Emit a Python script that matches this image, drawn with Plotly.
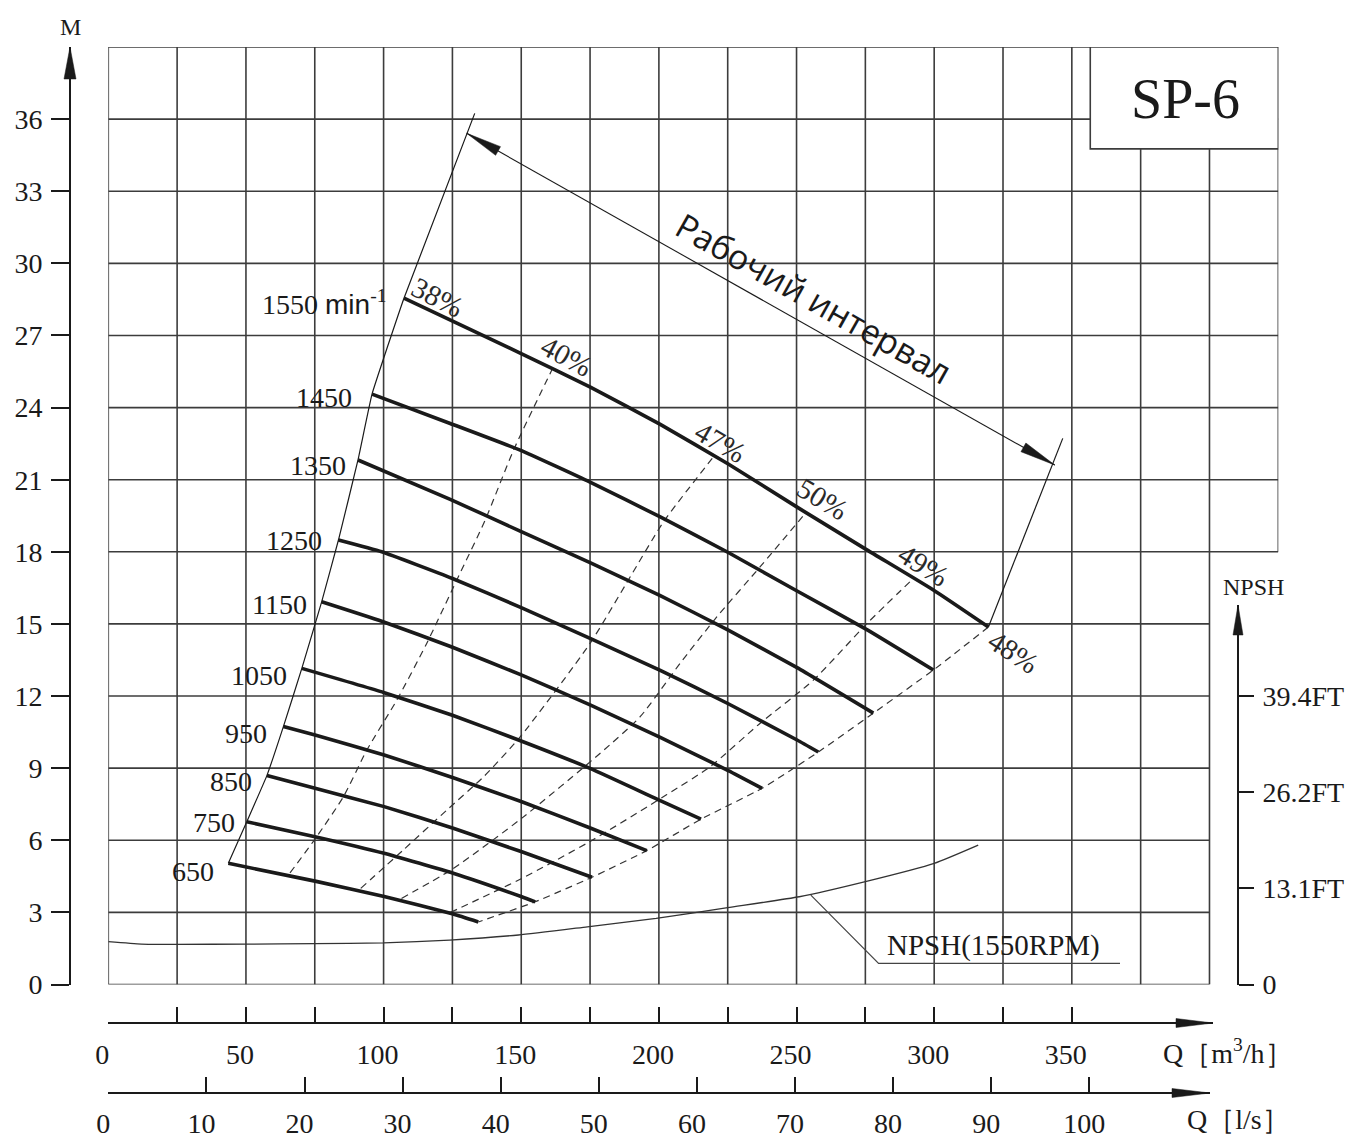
import math
import plotly.graph_objects as go

# ---------------- data ----------------
SPEEDS = [1550, 1450, 1350, 1250, 1150, 1050, 950, 850, 750, 650]

Q_1550 = [107.4, 149.6, 175.1, 200.5, 225.2, 250.2, 275.7, 299.7, 319.7]
H_1550 = [28.55, 26.27, 24.85, 23.3, 21.65, 19.86, 18.07, 16.41, 14.87]
Q_1450 = [95.8, 124.2, 149.6, 175.0, 200.5, 225.2, 250.2, 275.7, 299.7]
H_1450 = [24.56, 23.34, 22.23, 20.9, 19.45, 17.97, 16.37, 14.75, 13.08]
Q_1350 = [90.7, 124.2, 149.6, 175.0, 200.5, 225.2, 250.2, 277.9]
H_1350 = [21.82, 20.18, 18.86, 17.55, 16.18, 14.74, 13.18, 11.29]
Q_1250 = [83.6, 99.3, 124.8, 150.2, 175.0, 200.5, 225.2, 250.2, 257.9]
H_1250 = [18.49, 18.0, 16.9, 15.67, 14.4, 13.07, 11.68, 10.17, 9.67]
Q_1150 = [77.5, 99.3, 124.8, 150.2, 175.0, 200.5, 225.2, 237.5]
H_1150 = [15.92, 15.11, 14.04, 12.87, 11.63, 10.28, 8.9, 8.16]
Q_1050 = [70.3, 100.0, 125.0, 150.2, 175.2, 200.5, 215.3]
H_1050 = [13.15, 12.15, 11.2, 10.12, 8.98, 7.65, 6.88]
Q_950 = [63.6, 75.1, 100.2, 125.3, 150.2, 175.3, 195.6]
H_950 = [10.73, 10.38, 9.55, 8.6, 7.6, 6.5, 5.57]
Q_850 = [57.6, 75.1, 100.2, 125.3, 150.2, 175.7]
H_850 = [8.69, 8.16, 7.4, 6.5, 5.52, 4.46]
Q_750 = [50.3, 75.1, 100.2, 125.3, 150.2, 155.1]
H_750 = [6.77, 6.15, 5.46, 4.63, 3.65, 3.44]
Q_650 = [43.6, 75.1, 100.2, 125.3, 134.4]
H_650 = [5.04, 4.3, 3.66, 2.93, 2.6]

CURVES_Q = [Q_1550, Q_1450, Q_1350, Q_1250, Q_1150, Q_1050, Q_950, Q_850, Q_750, Q_650]
CURVES_H = [H_1550, H_1450, H_1350, H_1250, H_1150, H_1050, H_950, H_850, H_750, H_650]

SPEED_LABELS = ['1550 <span style="font-family:Liberation Sans">min</span><sup>-1</sup>',
                "1450", "1350", "1250", "1150", "1050", "950", "850", "750", "650"]
SPEED_LABEL_Q = [101.7, 89.3, 87.1, 78.4, 72.9, 65.7, 58.2, 52.9, 46.9, 38.95]
SPEED_LABEL_H = [28.39, 24.41, 21.61, 18.49, 15.8, 12.85, 10.46, 8.44, 6.72, 4.69]

# iso-efficiency (dashed) lines
ISO_40_Q = [66.0, 75.7, 85.4, 93.9, 104.8, 115.7, 126.6, 136.9, 147.2, 161.1]
ISO_40_H = [4.64, 6.15, 7.81, 9.75, 11.83, 14.2, 16.83, 19.32, 22.23, 25.56]
ISO_47_Q = [91.7, 107.2, 123.0, 136.3, 149.6, 175.0, 189.6, 201.7, 219.8]
ISO_47_H = [4.0, 5.6, 7.26, 8.64, 10.3, 14.19, 16.96, 19.25, 21.95]
ISO_50_Q = [106.5, 125.0, 150.0, 178.7, 193.2, 207.7, 221.1, 236.8, 253.2]
ISO_50_H = [3.58, 4.8, 6.9, 9.62, 11.14, 13.36, 15.3, 17.38, 19.6]
ISO_49_Q = [124.3, 150.0, 175.0, 202.9, 218.6, 236.8, 256.2, 275.6, 292.5]
ISO_49_H = [3.0, 4.4, 5.95, 7.9, 9.06, 10.87, 12.67, 15.02, 16.9]
ISO_Q = [ISO_40_Q, ISO_47_Q, ISO_50_Q, ISO_49_Q]
ISO_H = [ISO_40_H, ISO_47_H, ISO_50_H, ISO_49_H]

EFF_LABELS = ["38%", "40%", "47%", "50%", "49%", "48%"]
EFF_LABEL_Q = [119.4, 166.3, 222.3, 259.5, 296.1, 328.8]
EFF_LABEL_H = [28.6, 26.14, 22.57, 20.2, 17.45, 13.84]

# working range boundary extensions and dimension arrow
LEFT_BOUND_TOP_Q, LEFT_BOUND_TOP_H = 133.1, 36.24
RIGHT_BOUND_TOP_Q, RIGHT_BOUND_TOP_H = 346.7, 22.72
RANGE_ARROW_Q = [130.2, 343.8]
RANGE_ARROW_H = [35.41, 21.61]
RANGE_TEXT = "Рабочий интервал"
RANGE_TEXT_Q, RANGE_TEXT_H = 256.2, 28.55

# NPSH curve (m, same scale as head)
NPSH_Q = [0, 12, 25, 50, 75, 100, 124, 149, 174, 199, 225, 251, 275, 300, 316]
NPSH_H = [1.78, 1.68, 1.67, 1.68, 1.7, 1.73, 1.85, 2.06, 2.4, 2.75, 3.2, 3.65, 4.28, 5.04, 5.8]
NPSH_LEADER_Q = [255.2, 279.8, 367.5]
NPSH_LEADER_H = [3.72, 0.88, 0.88]
NPSH_TEXT = "NPSH(1550RPM)"
NPSH_TEXT_Q, NPSH_TEXT_H = 282.3, 1.62

TITLE = "SP-6"
TITLE_Q, TITLE_H = 391.2, 36.85
TITLE_BOX_Q = [356.7, 425]
TITLE_BOX_H = [34.76, 39]

Y_TICKS = list(range(0, 37, 3))
Q_TICKS_M3H = list(range(0, 351, 50))
Q_MINOR_TICKS_M3H = list(range(25, 351, 50))
Q_TICKS_LS = list(range(0, 101, 10))
NPSH_TICKS = [0, 4, 8, 12]
NPSH_TICKTEXT = ["0", "13.1FT", "26.2FT", "39.4FT"]
GRID_Q = list(range(0, 426, 25))
GRID_H = list(range(0, 40, 3))
GRID_Q_CUT, GRID_H_CUT = 400, 18

# ---------------- layout geometry (pixels) ----------------
W, HGT = 1354, 1139
LEFT, RIGHT, TOP, BOTTOM = 108.3, 1278.3, 47.0, 984.5
Q_MAX, H_MAX = 425, 39
SX = (RIGHT - LEFT) / Q_MAX
SY = (BOTTOM - TOP) / H_MAX
LS_PX = 9.81
Y_AXIS_X = 70
NPSH_AXIS_X, NPSH_AXIS_TOP = 1238, 605
M3H_AXIS_Y, M3H_AXIS_END = 1023, 1213
LS_AXIS_Y, LS_AXIS_END = 1093, 1210


def fx(px):
    return px / W


def fy(py):
    return 1 - py / HGT


SERIF = "Liberation Serif"
INK = "#1a1a1a"
GRIDC = "#3c3c3c"

fig = go.Figure()

# dummy traces so that the secondary x axes are drawn
fig.add_trace(go.Scatter(x=[None], y=[None], xaxis="x2", yaxis="y", showlegend=False, hoverinfo="skip"))
fig.add_trace(go.Scatter(x=[None], y=[None], xaxis="x3", yaxis="y", showlegend=False, hoverinfo="skip"))

# iso-efficiency dashed lines
for qs, hs in zip(ISO_Q, ISO_H):
    fig.add_trace(go.Scatter(x=qs, y=hs, mode="lines",
                             line=dict(color="#333", width=1.2, dash="7px,5px", shape="spline", smoothing=0.6),
                             showlegend=False, hoverinfo="skip"))
# 48% boundary: through curve end points
fig.add_trace(go.Scatter(x=[c[-1] for c in CURVES_Q], y=[c[-1] for c in CURVES_H], mode="lines",
                         line=dict(color="#333", width=1.2, dash="7px,5px", shape="spline", smoothing=0.4),
                         showlegend=False, hoverinfo="skip"))
# left boundary through curve start points
lq = [c[0] for c in CURVES_Q][::-1] + [LEFT_BOUND_TOP_Q]
lh = [c[0] for c in CURVES_H][::-1] + [LEFT_BOUND_TOP_H]
fig.add_trace(go.Scatter(x=lq, y=lh, mode="lines", line=dict(color=INK, width=1.2, shape="spline", smoothing=0.3),
                         showlegend=False, hoverinfo="skip"))
# right boundary
fig.add_trace(go.Scatter(x=[Q_1550[-1], RIGHT_BOUND_TOP_Q], y=[H_1550[-1], RIGHT_BOUND_TOP_H], mode="lines",
                         line=dict(color=INK, width=1.2), showlegend=False, hoverinfo="skip"))
# speed curves
for qs, hs in zip(CURVES_Q, CURVES_H):
    fig.add_trace(go.Scatter(x=qs, y=hs, mode="lines",
                             line=dict(color=INK, width=3.6, shape="spline", smoothing=0.4),
                             showlegend=False, hoverinfo="skip"))
# NPSH curve (on NPSH axis) and its leader
fig.add_trace(go.Scatter(x=NPSH_Q, y=NPSH_H, xaxis="x", yaxis="y2", mode="lines",
                         line=dict(color="#333", width=1.3, shape="spline", smoothing=0.5),
                         showlegend=False, hoverinfo="skip"))
fig.add_trace(go.Scatter(x=NPSH_LEADER_Q, y=NPSH_LEADER_H, mode="lines", line=dict(color="#444", width=1.2),
                         showlegend=False, hoverinfo="skip"))

shapes = []
# grid
for q in GRID_Q:
    h0 = GRID_H_CUT if q > GRID_Q_CUT else 0
    shapes.append(dict(type="line", xref="x", yref="y", x0=q, x1=q, y0=h0, y1=H_MAX,
                       line=dict(color=GRIDC, width=1.6), layer="below"))
for h in GRID_H:
    q1 = Q_MAX if h >= GRID_H_CUT else GRID_Q_CUT
    shapes.append(dict(type="line", xref="x", yref="y", x0=0, x1=q1, y0=h, y1=h,
                       line=dict(color=GRIDC, width=1.6), layer="below"))
# title box
shapes.append(dict(type="rect", xref="x", yref="y", x0=TITLE_BOX_Q[0], x1=TITLE_BOX_Q[1],
                   y0=TITLE_BOX_H[0], y1=TITLE_BOX_H[1],
                   fillcolor="white", line=dict(color=GRIDC, width=1.6), layer="below"))
# dimension arrow line
shapes.append(dict(type="line", xref="x", yref="y", x0=RANGE_ARROW_Q[0], y0=RANGE_ARROW_H[0],
                   x1=RANGE_ARROW_Q[1], y1=RANGE_ARROW_H[1], line=dict(color=INK, width=1.1)))


def arrowhead(xref, xa, yref, ya, ux, uy, L, hw):
    n = math.hypot(ux, uy)
    ux, uy = ux / n, uy / n
    bx, by = -L * ux, -L * uy
    px_, py_ = -uy, ux
    path = (f"M 0,0 L {bx + hw * px_:.2f},{by + hw * py_:.2f} "
            f"L {bx - hw * px_:.2f},{by - hw * py_:.2f} Z")
    return dict(type="path", xref=xref, yref=yref, xsizemode="pixel", ysizemode="pixel",
                xanchor=xa, yanchor=ya, path=path, fillcolor=INK, line=dict(color=INK, width=0.5))


shapes.append(arrowhead("paper", fx(Y_AXIS_X), "y", H_MAX, 0, 1, 32, 6))
shapes.append(arrowhead("paper", fx(NPSH_AXIS_X), "y2", (BOTTOM - NPSH_AXIS_TOP) / SY, 0, 1, 30, 5))
shapes.append(arrowhead("x2", (M3H_AXIS_END - LEFT) / SX, "paper", fy(M3H_AXIS_Y), 1, 0, 37, 4.5))
shapes.append(arrowhead("x3", (LS_AXIS_END - LEFT) / LS_PX, "paper", fy(LS_AXIS_Y), 1, 0, 38, 4.5))
ddx = (RANGE_ARROW_Q[1] - RANGE_ARROW_Q[0]) * SX
ddy = (RANGE_ARROW_H[1] - RANGE_ARROW_H[0]) * SY
shapes.append(arrowhead("x", RANGE_ARROW_Q[1], "y", RANGE_ARROW_H[1], ddx, ddy, 36, 5))
shapes.append(arrowhead("x", RANGE_ARROW_Q[0], "y", RANGE_ARROW_H[0], -ddx, -ddy, 36, 5))

annotations = []
for t, q, h in zip(SPEED_LABELS, SPEED_LABEL_Q, SPEED_LABEL_H):
    annotations.append(dict(x=q, y=h, xref="x", yref="y", text=t, showarrow=False, xanchor="right", yanchor="middle",
                            font=dict(family=SERIF, size=28, color=INK)))
eff_angles = [27, 28, 30, 31, 32, 33]
for t, q, h, a in zip(EFF_LABELS, EFF_LABEL_Q, EFF_LABEL_H, eff_angles):
    annotations.append(dict(x=q, y=h, xref="x", yref="y", text=t, showarrow=False, textangle=a,
                            xanchor="center", yanchor="middle",
                            font=dict(family=SERIF, size=29, color="#2a2a2a")))
ang = math.degrees(math.atan2(-ddy, ddx))
annotations.append(dict(x=RANGE_TEXT_Q, y=RANGE_TEXT_H, xref="x", yref="y", text=RANGE_TEXT, showarrow=False,
                        xanchor="center", yanchor="middle",
                        textangle=ang, font=dict(family="Open Sans", size=34, color=INK)))
annotations.append(dict(x=NPSH_TEXT_Q, y=NPSH_TEXT_H, xref="x", yref="y", text=NPSH_TEXT, showarrow=False,
                        xanchor="left", yanchor="middle", font=dict(family=SERIF, size=29, color=INK)))
annotations.append(dict(x=TITLE_Q, y=TITLE_H, xref="x", yref="y", text=TITLE, showarrow=False,
                        xanchor="center", yanchor="middle",
                        font=dict(family=SERIF, size=56, color=INK)))
paper_texts = [("M", 70, 27, 24), ("NPSH", 1253, 587, 24),
               ("Q［m<sup>3</sup>/h］", 1228, 1051, 28), ("Q［l/s］", 1238, 1119, 28)]
for t, px, py, s in paper_texts:
    annotations.append(dict(x=fx(px), y=fy(py), xref="paper", yref="paper", text=t, showarrow=False,
                            xanchor="center", yanchor="middle", font=dict(family=SERIF, size=s, color=INK)))

tickfont = dict(family=SERIF, size=28, color=INK)
axis_common = dict(showgrid=False, zeroline=False, showline=True, linecolor=INK, linewidth=1.6,
                   tickcolor=INK, tickwidth=1.6, tickfont=tickfont, fixedrange=True, automargin=False)

fig.update_layout(
    width=W, height=HGT, margin=dict(l=0, r=0, t=0, b=0, pad=0), autosize=False,
    paper_bgcolor="white", plot_bgcolor="rgba(0,0,0,0)", showlegend=False,
    xaxis=dict(domain=[fx(LEFT), fx(RIGHT)], range=[0, Q_MAX], visible=False, anchor="y",
               fixedrange=True, automargin=False),
    yaxis=dict(domain=[fy(BOTTOM), fy(TOP)], range=[0, H_MAX], anchor="free", position=fx(Y_AXIS_X),
               ticks="outside", ticklen=18, tickvals=Y_TICKS, ticklabelstandoff=3, **axis_common),
    yaxis2=dict(domain=[fy(BOTTOM), fy(NPSH_AXIS_TOP)], range=[0, (BOTTOM - NPSH_AXIS_TOP) / SY], anchor="free",
                position=fx(NPSH_AXIS_X), side="right", ticks="outside", ticklen=15, tickvals=NPSH_TICKS,
                ticktext=NPSH_TICKTEXT, ticklabelstandoff=3, **axis_common),
    xaxis2=dict(domain=[fx(LEFT), fx(M3H_AXIS_END)], range=[0, (M3H_AXIS_END - LEFT) / SX], anchor="free",
                position=fy(M3H_AXIS_Y), side="bottom", ticks="inside", ticklen=15, tickvals=Q_TICKS_M3H,
                minor=dict(tickmode="array", tickvals=Q_MINOR_TICKS_M3H, ticks="inside", ticklen=15,
                           tickwidth=1.6, tickcolor=INK, showgrid=False),
                ticklabelshift=-6, ticklabelstandoff=7, **axis_common),
    xaxis3=dict(domain=[fx(LEFT), fx(LS_AXIS_END)], range=[0, (LS_AXIS_END - LEFT) / LS_PX], anchor="free",
                position=fy(LS_AXIS_Y), side="bottom", ticks="inside", ticklen=15, tickvals=Q_TICKS_LS,
                ticklabelshift=-5, ticklabelstandoff=6, **axis_common),
    shapes=shapes, annotations=annotations,
)

fig.write_html("out.html", config={"displayModeBar": False},
               post_script="document.body.style.margin='0px';document.body.style.overflow='hidden';")
